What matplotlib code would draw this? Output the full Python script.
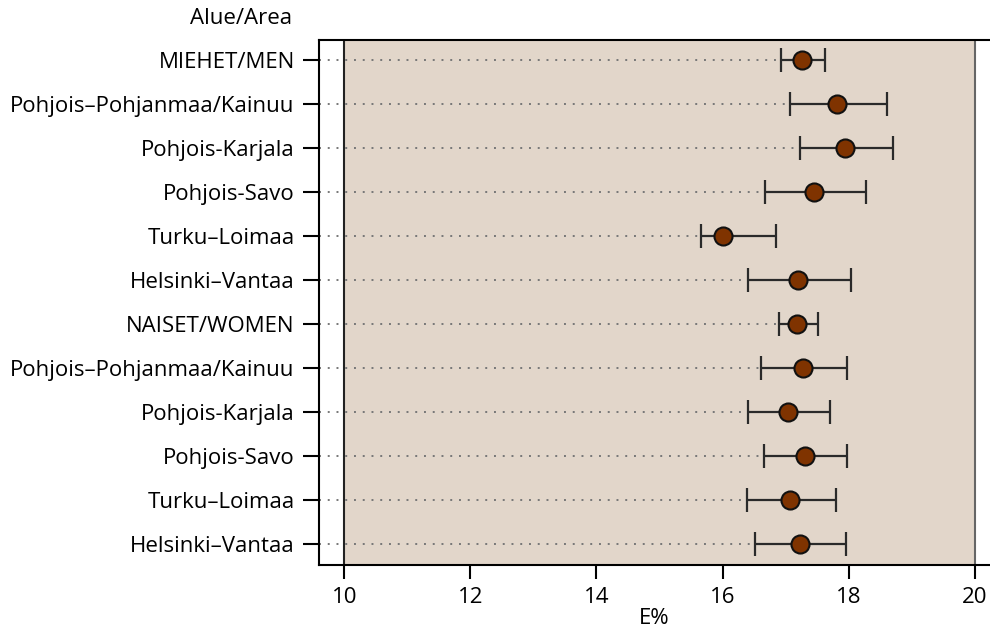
import matplotlib
matplotlib.use('Agg')
from matplotlib import pyplot as plt
import numpy as np

plt.rcParams['font.family'] = ['Open Sans', 'DejaVu Sans']

areas = [
   'MIEHET/MEN',
   'Pohjois\u2013Pohjanmaa/Kainuu',
   'Pohjois-Karjala',
   'Pohjois-Savo',
   'Turku\u2013Loimaa',
   'Helsinki\u2013Vantaa',
   'NAISET/WOMEN',
   'Pohjois\u2013Pohjanmaa/Kainuu',
   'Pohjois-Karjala',
   'Pohjois-Savo',
   'Turku\u2013Loimaa',
   'Helsinki\u2013Vantaa',
]
estimate = [17.26, 17.82, 17.94, 17.45, 16.01, 17.20, 17.18, 17.27, 17.03, 17.30, 17.07, 17.22]
lower    = [16.93, 17.07, 17.22, 16.67, 15.66, 16.40, 16.89, 16.61, 16.40, 16.66, 16.39, 16.52]
upper    = [17.62, 18.61, 18.70, 18.27, 16.84, 18.03, 17.51, 17.97, 17.71, 17.97, 17.80, 17.95]
xticks = [10, 12, 14, 16, 18, 20]

fig = plt.figure(figsize=(9.9, 6.3), dpi=100)
ax = fig.add_axes([0.3222, 0.1032, 0.6778, 0.8333])

xmin, xmax = 9.6, 20.24
ax.axvspan(10, 20, color='#E2D6CA', zorder=0, lw=0)
ax.axvline(10, color='#222222', lw=1.5, zorder=1)
ax.axvline(20, color='#666666', lw=1.5, zorder=1)

y = np.arange(len(areas))
est = np.array(estimate)
lo = np.array(lower)
hi = np.array(upper)

for yi, l in zip(y, lo):
   ax.plot([xmin, l], [yi, yi], linestyle=(0, (1, 3.5)), lw=1.4, color='#777777', zorder=2)

ax.errorbar(est, y, xerr=[est - lo, hi - est], fmt='none', ecolor='#2a2a2a',
            elinewidth=1.6, capsize=8.5, capthick=1.6, zorder=3)
ax.plot(est, y, 'o', ms=13, mfc='#7F3300', mec='#111111', mew=1.5, zorder=4)

ax.set_xlim(xmin, xmax)
ax.set_ylim(11.48, -0.45)
ax.set_yticks(y)
ax.set_yticklabels(areas, fontsize=16)
ax.set_xticks(xticks)
ax.set_xticklabels([str(t) for t in xticks], fontsize=16)
ax.tick_params(axis='y', length=11.5, width=1.5, pad=6)
ax.tick_params(axis='x', length=10, width=1.5, pad=6)
ax.set_xlabel('E%', fontsize=16, labelpad=0)

for s in ['left', 'top', 'bottom']:
   ax.spines[s].set_linewidth(1.5)
ax.spines['right'].set_visible(False)

fig.text(0.295, 0.97, 'Alue/Area', ha='right', va='center', fontsize=16)

plt.savefig('out.png')
